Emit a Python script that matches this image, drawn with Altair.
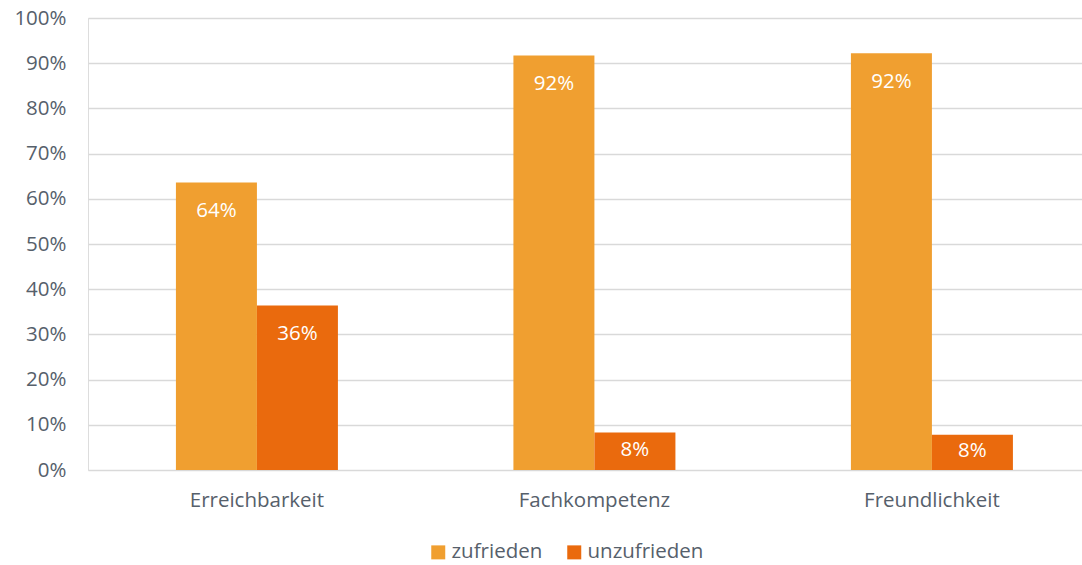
import altair as alt
import pandas as pd

categories = ["Erreichbarkeit", "Fachkompetenz", "Freundlichkeit"]
series = ["zufrieden", "unzufrieden"]
zufrieden = [0.636, 0.917, 0.922]
unzufrieden = [0.364, 0.083, 0.078]
colors = ["#F09F30", "#EA6A0D"]

rows = []
for i, c in enumerate(categories):
    rows.append({"Kategorie": c, "Serie": series[0], "Wert": zufrieden[i]})
    rows.append({"Kategorie": c, "Serie": series[1], "Wert": unzufrieden[i]})
df = pd.DataFrame(rows)

FONT = "Open Sans"
TXT = "#56606b"
FS = 20.5

x_enc = alt.X("Kategorie:N", sort=categories, title=None,
              scale=alt.Scale(paddingInner=0.52, paddingOuter=0.2326, align=0.56),
              axis=alt.Axis(labelAngle=0, tickSize=0, ticks=False, domain=False,
                            labelPadding=20, labelFontSize=FS, labelColor=TXT,
                            labelFont=FONT, grid=False))
xoff = alt.XOffset("Serie:N", sort=series, scale=alt.Scale(paddingInner=0, paddingOuter=0))

bars = alt.Chart(df).mark_bar().encode(
    x=x_enc,
    xOffset=xoff,
    y=alt.Y("Wert:Q", title=None,
            scale=alt.Scale(domain=[0, 1], nice=False),
            axis=alt.Axis(format=".0%", values=[i / 10 for i in range(11)],
                          tickSize=0, ticks=False, domain=False, labelPadding=22,
                          labelFontSize=FS, labelColor=TXT, labelFont=FONT,
                          gridColor="#d9d9d9", gridWidth=1.5)),
    color=alt.Color("Serie:N", sort=series,
                    scale=alt.Scale(domain=series, range=colors),
                    legend=alt.Legend(title=None, orient="none", direction="horizontal",
                                      legendX=340, legendY=524, symbolType="square",
                                      symbolSize=196, symbolStrokeWidth=0,
                                      labelFontSize=FS, labelColor=TXT, labelFont=FONT,
                                      labelOffset=3, columnPadding=21)),
)

labels = alt.Chart(df).transform_calculate(
    ly="datum.Wert > 0.2 ? datum.Wert - 0.063 : datum.Wert / 2 + 0.003"
).mark_text(color="white", fontSize=FS, font=FONT, baseline="middle").encode(
    x=alt.X("Kategorie:N", sort=categories),
    xOffset=alt.XOffset("Serie:N", sort=series),
    y=alt.Y("ly:Q"),
    text=alt.Text("Wert:Q", format=".0%"),
)

chart = alt.layer(bars, labels).properties(
    width=994, height=452,
    autosize=alt.AutoSizeParams(type="none"),
    padding={"left": 88, "top": 18, "right": 0, "bottom": 95},
).configure_view(stroke=None).configure(background="white")

chart.save("out.html", embed_options={"renderer": "svg", "actions": False})
